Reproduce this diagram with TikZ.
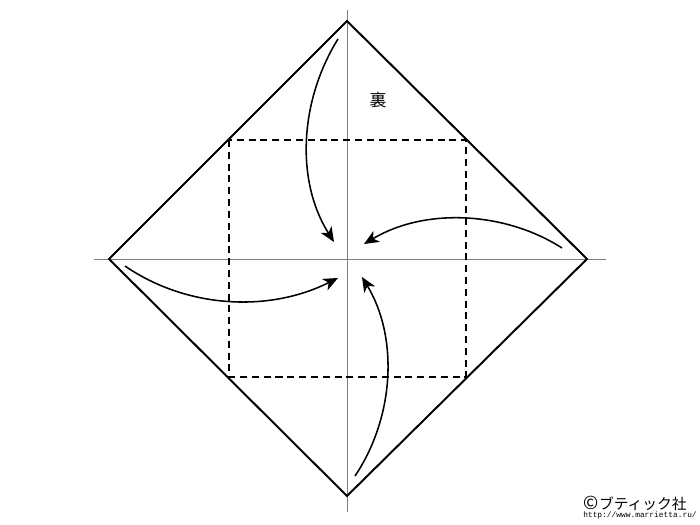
\documentclass[tikz,border=0pt]{standalone}
\usepackage{fontspec}
\usepackage{tikz}
\usetikzlibrary{arrows.meta}
\newfontfamily\jpfont{Noto Sans CJK JP}
\newfontfamily\urlfont{Liberation Mono}

\tikzset{
  fold/.style={line width=1.4pt, line join=miter},
  axis/.style={line width=0.7pt, draw=black!50},
  valley/.style={line width=1.4pt, dash pattern=on 5pt off 3.4pt},
  turn/.style={line width=1.1pt, -{Stealth[length=10.5pt,width=9pt,inset=3pt]}}
}

\begin{document}
\begin{tikzpicture}[x=0.025cm, y=-0.025cm]
             \useasboundingbox (0,0) rectangle (700,525);

             \coordinate (top) at (347, 21);
             \coordinate (right) at (587, 259);
             \coordinate (bottom) at (347, 496);
             \coordinate (left) at (109, 259);
             \coordinate (mid) at (347, 259);

             \draw[axis] (94, 259) -- (606, 259);
             \draw[axis] (347, 10) -- (347, 512);

             \draw[fold] (top) -- (right) -- (bottom) -- (left) -- cycle;
             \draw[valley] (229, 140) rectangle (466, 377);

             \coordinate (topstart) at (338, 39);
             \coordinate (toptip) at (334, 242);
             \coordinate (rightstart) at (562, 248);
             \coordinate (righttip) at (364, 244);
             \coordinate (botstart) at (355, 476);
             \coordinate (bottip) at (362, 277);
             \coordinate (leftstart) at (125, 266);
             \coordinate (lefttip) at (338, 278);

             \draw[turn] (topstart) .. controls (300, 100) and (295, 180) .. (toptip);
             \draw[turn] (rightstart) .. controls (506, 212) and (426, 207) .. (righttip);
             \draw[turn] (botstart) .. controls (394, 418) and (399, 338) .. (bottip);
             \draw[turn] (leftstart) .. controls (186, 308) and (268, 313) .. (lefttip);

             \node[draw=none] (back) at (378, 100) {\jpfont\fontsize{12pt}{14pt}\selectfont 裏};
             \node[draw=none, anchor=east, inner sep=0pt] (credit) at (687, 503)
               {\jpfont\fontsize{10.5pt}{12pt}\selectfont {\fontsize{13pt}{12pt}\selectfont ©}ブティック社};
             \node[draw=none, anchor=east, inner sep=0pt] (site) at (697, 515)
               {\urlfont\fontsize{5.6pt}{6pt}\selectfont http://www.marrietta.ru/};
             \end{tikzpicture}
\end{document}
